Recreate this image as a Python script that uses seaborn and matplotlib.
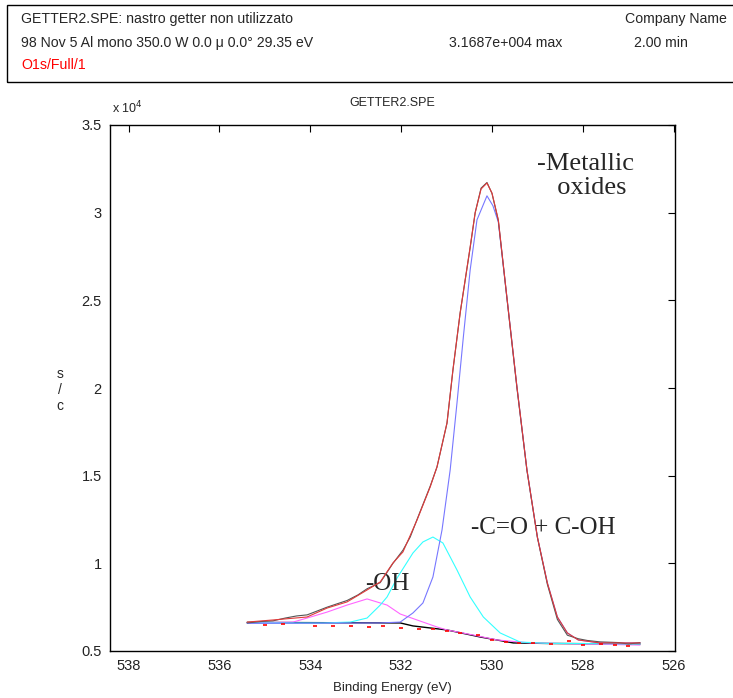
import numpy as np
import pandas as pd
import matplotlib
matplotlib.use("Agg")
import matplotlib.pyplot as plt
import seaborn as sns
from matplotlib.patches import Rectangle

# ---------------- data (binding energy in eV, intensity in units of 10^4 c/s) ----------------
env_x = [535.39, 534.82, 534.07, 533.63, 533.19, 532.75, 532.46, 532.18, 531.96, 531.65,
         531.36, 531.21, 530.99, 530.86, 530.70, 530.48, 530.37, 530.24, 530.11, 530.00,
         529.86, 529.64, 529.45, 529.23, 529.00, 528.78, 528.56, 528.34, 528.10, 527.62, 526.74]
env_y = [0.665, 0.677, 0.694, 0.745, 0.780, 0.848, 0.894, 1.002, 1.065, 1.247,
         1.436, 1.550, 1.801, 2.103, 2.428, 2.805, 2.999, 3.135, 3.169, 3.112,
         2.959, 2.445, 2.006, 1.533, 1.150, 0.888, 0.694, 0.603, 0.563, 0.546, 0.546]

raw_x = [535.39, 535.10, 534.82, 534.55, 534.30, 534.07, 533.85, 533.63, 533.40, 533.19,
         532.95, 532.75, 532.46, 532.18, 531.96, 531.80, 531.65, 531.36, 531.21, 530.99,
         530.86, 530.70, 530.48, 530.37, 530.24, 530.11, 530.00, 529.86, 529.64, 529.45,
         529.23, 529.00, 528.78, 528.56, 528.34, 528.10, 527.90, 527.62, 527.40, 527.20,
         527.00, 526.74]
raw_y = [0.660, 0.668, 0.672, 0.688, 0.700, 0.706, 0.728, 0.750, 0.770, 0.788,
         0.820, 0.855, 0.890, 1.000, 1.075, 1.150, 1.250, 1.440, 1.550, 1.800,
         2.100, 2.430, 2.800, 3.000, 3.140, 3.172, 3.110, 2.955, 2.440, 2.000,
         1.530, 1.148, 0.880, 0.680, 0.590, 0.570, 0.560, 0.552, 0.550, 0.548,
         0.540, 0.548]

oxide_x = [535.39, 532.46, 532.02, 531.74, 531.52, 531.30, 531.10, 530.92, 530.77, 530.63,
           530.48, 530.33, 530.11, 529.98, 529.86, 529.64, 529.45, 529.23, 529.00, 528.78,
           528.56, 528.34, 528.10, 527.62, 526.74]
oxide_y = [0.658, 0.660, 0.665, 0.717, 0.774, 0.922, 1.190, 1.533, 1.915, 2.291,
           2.673, 2.959, 3.096, 3.040, 2.947, 2.445, 2.006, 1.533, 1.150, 0.888,
           0.694, 0.603, 0.563, 0.546, 0.546]

carb_x = [535.39, 533.72, 533.12, 532.75, 532.46, 532.31, 532.09, 531.74, 531.52, 531.30,
          531.08, 530.77, 530.48, 530.19, 529.82, 529.38, 528.80, 526.74]
carb_y = [0.660, 0.660, 0.665, 0.688, 0.762, 0.808, 0.916, 1.059, 1.122, 1.150,
          1.116, 0.962, 0.808, 0.694, 0.603, 0.551, 0.544, 0.540]

oh_x = [535.39, 534.38, 534.07, 533.63, 533.19, 532.75, 532.31, 532.02, 531.65, 531.21,
        530.99, 530.41, 529.89, 529.16, 526.74]
oh_y = [0.660, 0.665, 0.688, 0.722, 0.762, 0.797, 0.762, 0.711, 0.677, 0.637,
        0.620, 0.591, 0.563, 0.546, 0.534]

base_x = [535.39, 532.02, 531.74, 530.99, 530.26, 529.53, 528.78, 526.74]
base_y = [0.663, 0.660, 0.643, 0.620, 0.580, 0.546, 0.543, 0.540]

resid_x = [535.0, 534.6, 533.9, 533.5, 533.1, 532.7, 532.4, 532.0, 531.6, 531.3,
           531.0, 530.7, 530.3, 530.0, 529.7, 529.4, 529.1, 528.7, 528.3, 528.0,
           527.6, 527.3, 527.0]
resid_y = [0.650, 0.655, 0.645, 0.640, 0.642, 0.636, 0.640, 0.632, 0.628, 0.625,
           0.612, 0.600, 0.590, 0.565, 0.552, 0.548, 0.545, 0.538, 0.555, 0.532,
           0.540, 0.535, 0.528]

header_line1 = "GETTER2.SPE: nastro getter non utilizzato"
header_line2 = "98 Nov 5 Al mono 350.0 W 0.0 \u03bc 0.0\u00b0 29.35 eV"
header_max = "3.1687e+004 max"
header_time = "2.00 min"
header_company = "Company Name"
header_region = "O1s/Full/1"
title = "GETTER2.SPE"
xlabel = "Binding Energy (eV)"

# ---------------- figure ----------------
sns.set_theme(style="white")
plt.rcParams["font.family"] = ["Liberation Sans", "DejaVu Sans"]

fig = plt.figure(figsize=(7.33, 6.98), dpi=100)
ax = fig.add_axes([110/733, 1-651/698, 565/733, 526/698])

def draw(xs, ys, color, lw=0.8, z=2):
    df = pd.DataFrame({"BE": xs, "I": ys})
    sns.lineplot(data=df, x="BE", y="I", ax=ax, color=color, lw=lw, zorder=z,
                 sort=False, estimator=None)

draw(base_x, base_y, "black", lw=1.0, z=2)
draw(oh_x, oh_y, "#ff66ff", z=3)
draw(carb_x, carb_y, "#33ffff", z=3)
draw(oxide_x, oxide_y, "#7777ff", z=3)
draw(raw_x, raw_y, "#555555", z=4)
draw(env_x, env_y, "#e03a3a", z=5)

rdf = pd.DataFrame({"BE": resid_x, "I": resid_y})
sns.scatterplot(data=rdf, x="BE", y="I", ax=ax, marker="_", color="red", s=12,
                linewidth=1.2, zorder=6)

ax.set_xlim(538.41, 525.97)
ax.set_ylim(0.5, 3.5)
ax.set_xticks([538, 536, 534, 532, 530, 528, 526])
ax.set_yticks([0.5, 1, 1.5, 2, 2.5, 3, 3.5])
ax.set_yticklabels(["0.5", "1", "1.5", "2", "2.5", "3", "3.5"])
ax.tick_params(direction="in", length=5, width=0.8, top=True, right=True,
               labelsize=10.5, pad=6, colors="black", labelcolor="#222222")
for s in ax.spines.values():
    s.set_color("black")
    s.set_linewidth(1.0)
ax.set_xlabel("")
ax.set_ylabel("")

# axis labels / titles as figure text
fig.text(392/733, 1-688/698, xlabel, ha="center", va="center", fontsize=9.5)
fig.text(392/733, 1-103/698, title, ha="center", va="center", fontsize=9)
fig.text(112/733, 1-108/698, "x 10$^{4}$", ha="left", va="center", fontsize=9)
fig.text(60/733, 1-390/698, "s\n/\nc", ha="center", va="center", fontsize=10,
         linespacing=1.2)

# peak annotations
serif = ["Liberation Serif", "DejaVu Serif"]
ax.text(587/733 * 0 + 527.95, 3.21, "-Metallic\n  oxides", ha="center", va="center",
        fontsize=19, family=serif, linespacing=1.15)
ax.text(528.88, 1.2, "-C=O + C-OH", ha="center", va="center", fontsize=18, family=serif)
ax.text(532.3, 0.88, "-OH", ha="center", va="center", fontsize=18, family=serif)

# header box
fig.patches.append(Rectangle((7/733, 1-82/698), 740/733, 77/698, transform=fig.transFigure,
                             fill=False, edgecolor="black", linewidth=1.0))
fs = 10.2
fig.text(21/733, 1-19/698, header_line1, ha="left", va="center", fontsize=fs)
fig.text(21/733, 1-43/698, header_line2, ha="left", va="center", fontsize=fs)
fig.text(21/733, 1-65/698, header_region, ha="left", va="center", fontsize=fs, color="red")
fig.text(449/733, 1-43/698, header_max, ha="left", va="center", fontsize=fs)
fig.text(634/733, 1-43/698, header_time, ha="left", va="center", fontsize=fs)
fig.text(727/733, 1-19/698, header_company, ha="right", va="center", fontsize=fs)

fig.savefig("out.png", dpi=100)
